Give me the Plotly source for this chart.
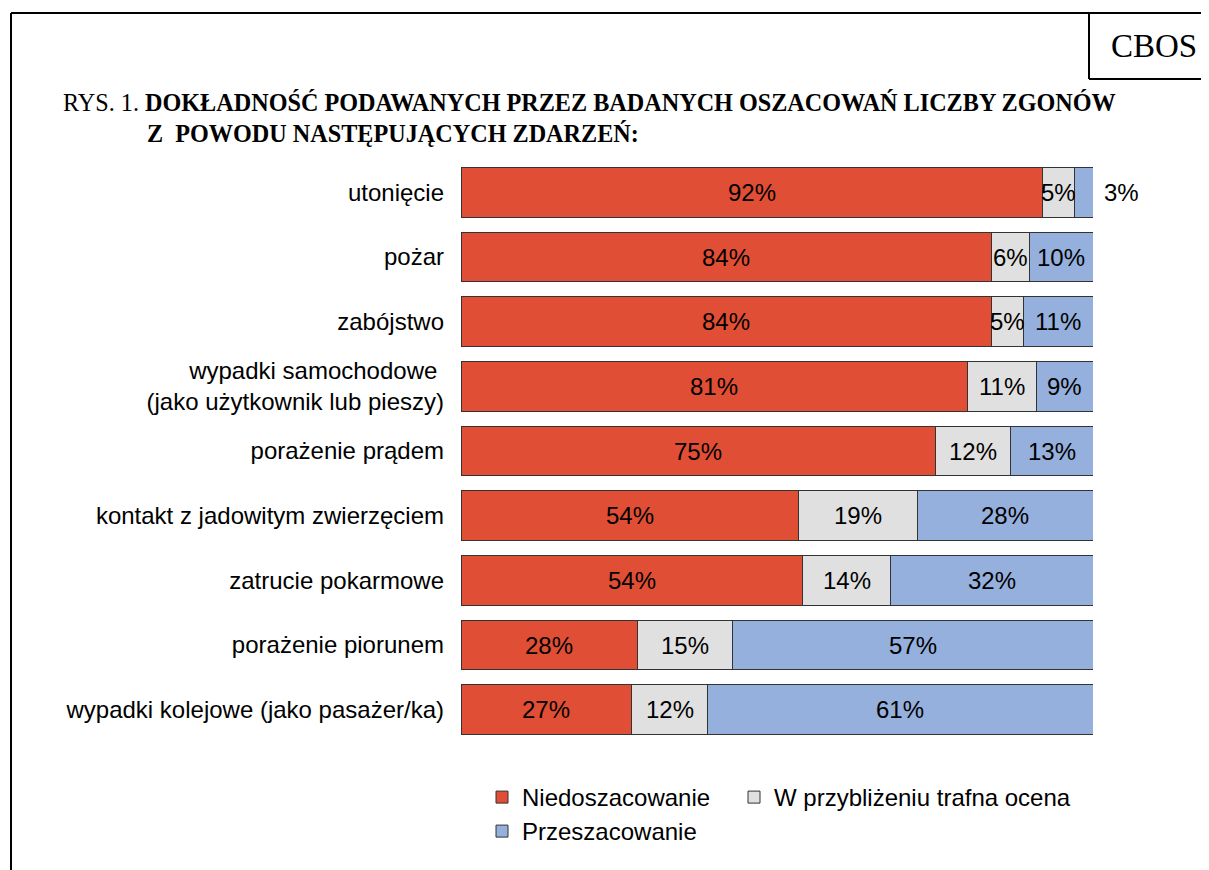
import plotly.graph_objects as go

# ---------------- data ----------------
categories = [
    "utonięcie",
    "pożar",
    "zabójstwo",
    "wypadki samochodowe\u00a0<br>(jako użytkownik lub pieszy)",
    "porażenie prądem",
    "kontakt z jadowitym zwierzęciem",
    "zatrucie pokarmowe",
    "porażenie piorunem",
    "wypadki kolejowe (jako pasażer/ka)",
]
under = [92, 84, 84, 81, 75, 54, 54, 28, 27]
approx = [5, 6, 5, 11, 12, 19, 14, 15, 12]
over = [3, 10, 11, 9, 13, 28, 32, 57, 61]
series_names = ["Niedoszacowanie", "W przybliżeniu trafna ocena", "Przeszacowanie"]
colors = ["#E04E35", "#E0E0E0", "#95B0DC"]

# ---------------- layout geometry ----------------
OFF = 8  # page body margin
W, H = 1209 - OFF, 870 - OFF
ML, MR, MT, MB = 453, 116, 152, 128
PW, PH = W - ML - MR, H - MT - MB


def px_x(p):  # page pixel -> paper x
    return (p - OFF - ML) / PW


def px_y(p):  # page pixel -> paper y
    return (H - MB - (p - OFF)) / PH


SANS = "Liberation Sans, Arial, sans-serif"
SERIF = "Liberation Serif, Times New Roman, serif"

series = [under, approx, over]
totals = [sum(v) for v in zip(*series)]
shares = [[v / t * 100 for v, t in zip(s, totals)] for s in series]

legends = ["legend", "legend", "legend2"]
legwidths = [207, None, None]

fig = go.Figure()
for name, col, sh, raw, lg, lw in zip(series_names, colors, shares, series, legends, legwidths):
    fig.add_trace(go.Bar(
        y=categories, x=sh, name=name, orientation="h",
        marker=dict(color=col, line=dict(color="#333333", width=1)),
        width=0.77, customdata=raw, legend=lg, legendwidth=lw,
        hovertemplate="%{y}: %{customdata}%<extra>" + name + "</extra>",
    ))

annotations = []
for i, cat in enumerate(categories):
    start = 0.0
    for s_idx in range(3):
        sh = shares[s_idx][i]
        val = series[s_idx][i]
        if sh < 4:
            annotations.append(dict(
                x=start + sh, y=cat, xref="x", yref="y", text=f"{val}%",
                showarrow=False, xanchor="left", xshift=9,
                font=dict(family=SANS, size=24, color="black")))
        else:
            annotations.append(dict(
                x=start + sh / 2, y=cat, xref="x", yref="y", text=f"{val}%",
                showarrow=False, xanchor="center",
                font=dict(family=SANS, size=24, color="black")))
        start += sh

# titles
annotations.append(dict(
    x=px_x(61), y=px_y(103), xref="paper", yref="paper", xanchor="left", yanchor="middle",
    text="RYS. 1. <b>DOKŁADNOŚĆ PODAWANYCH PRZEZ BADANYCH OSZACOWAŃ LICZBY ZGONÓW</b>",
    showarrow=False, font=dict(family=SERIF, size=24.2, color="black")))
annotations.append(dict(
    x=px_x(145), y=px_y(134), xref="paper", yref="paper", xanchor="left", yanchor="middle",
    text="<b>Z \u00a0POWODU NASTĘPUJĄCYCH ZDARZEŃ:</b>",
    showarrow=False, font=dict(family=SERIF, size=24.2, color="black")))
annotations.append(dict(
    x=px_x(1154), y=px_y(46), xref="paper", yref="paper", xanchor="center", yanchor="middle",
    text="CBOS", showarrow=False, font=dict(family=SERIF, size=33, color="black")))

line = dict(color="black", width=2)
shapes = [
    dict(type="line", xref="paper", yref="paper", x0=px_x(11), x1=px_x(1230), y0=px_y(13), y1=px_y(13), line=line),
    dict(type="line", xref="paper", yref="paper", x0=px_x(11), x1=px_x(11), y0=px_y(13), y1=px_y(900), line=line),
    dict(type="line", xref="paper", yref="paper", x0=px_x(1089), x1=px_x(1089), y0=px_y(13), y1=px_y(79), line=line),
    dict(type="line", xref="paper", yref="paper", x0=px_x(1089), x1=px_x(1230), y0=px_y(79), y1=px_y(79), line=line),
]

legfont = dict(family=SANS, size=24, color="black")
fig.update_layout(
    width=W, height=H,
    margin=dict(l=ML, r=MR, t=MT, b=MB, pad=0),
    barmode="stack",
    plot_bgcolor="white", paper_bgcolor="white",
    font=dict(family=SANS, size=24, color="black"),
    xaxis=dict(range=[0, 100], visible=False, fixedrange=True),
    yaxis=dict(autorange="reversed", showgrid=False, zeroline=False, showline=False,
               ticks="", ticklabelstandoff=16, tickfont=dict(family=SANS, size=24, color="black")),
    legend=dict(orientation="h", x=px_x(482), xanchor="left", y=px_y(775), yanchor="top",
                traceorder="normal", bgcolor="rgba(0,0,0,0)", font=legfont),
    legend2=dict(orientation="h", x=px_x(482), xanchor="left", y=px_y(809), yanchor="top",
                 traceorder="normal", bgcolor="rgba(0,0,0,0)", font=legfont),
    annotations=annotations, shapes=shapes, showlegend=True,
)

fig.write_html("out.html")
